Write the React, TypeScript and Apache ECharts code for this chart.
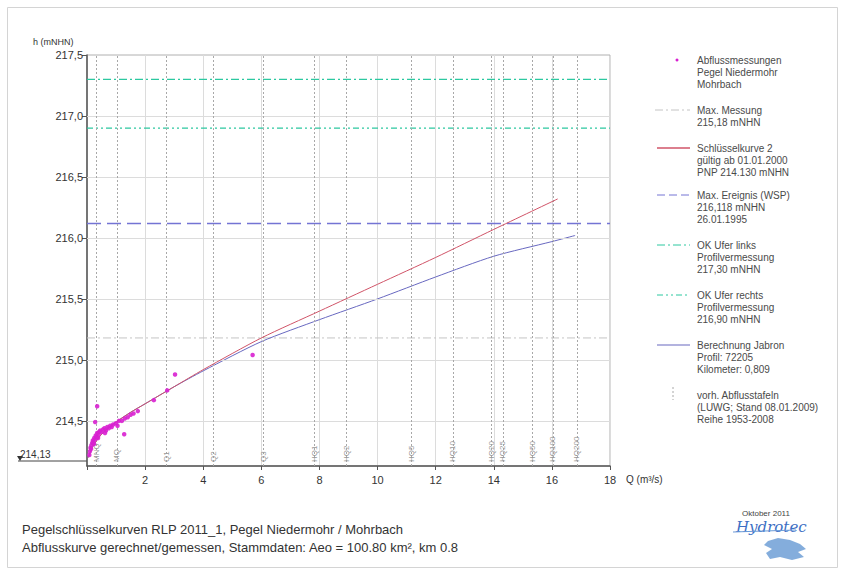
import React, { useEffect, useRef } from "react";
import * as echarts from "echarts";

// ---- data ----
const hTicks = [214.5, 215.0, 215.5, 216.0, 216.5, 217.0, 217.5];
const hMin = 214.13;
const qMin = 0;
const qMax = 18;

const measQ = [0.08, 0.1, 0.12, 0.15, 0.18, 0.2, 0.22, 0.25, 0.28, 0.3, 0.33, 0.35, 0.4, 0.42, 0.45, 0.5, 0.55, 0.6, 0.65, 0.7, 0.75, 0.8, 0.85, 0.9, 1.0, 1.05, 1.1, 1.2, 1.3, 1.4, 1.5, 1.6, 1.75, 0.35, 1.28, 2.3, 2.76, 3.03, 5.7, 0.28, 0.14, 0.24, 0.38, 0.62];
const measH = [214.22, 214.25, 214.28, 214.3, 214.32, 214.34, 214.33, 214.36, 214.35, 214.38, 214.37, 214.4, 214.39, 214.41, 214.42, 214.41, 214.43, 214.44, 214.42, 214.45, 214.44, 214.46, 214.45, 214.47, 214.48, 214.46, 214.5, 214.5, 214.52, 214.53, 214.55, 214.56, 214.58, 214.62, 214.39, 214.67, 214.75, 214.88, 215.04, 214.49, 214.27, 214.31, 214.36, 214.4];

const keyQ = [0.05, 0.2, 0.5, 1, 1.5, 2, 3, 4, 6, 8, 10, 12, 14, 16.2];
const keyH = [214.2, 214.29, 214.39, 214.49, 214.57, 214.64, 214.78, 214.92, 215.18, 215.4, 215.62, 215.84, 216.07, 216.32];

const jabQ = [0.05, 0.2, 0.5, 1, 1.5, 2, 3, 4, 6, 8, 10, 12, 14, 16, 16.8];
const jabH = [214.2, 214.29, 214.39, 214.49, 214.57, 214.64, 214.78, 214.91, 215.15, 215.33, 215.5, 215.68, 215.85, 215.97, 216.02];

const maxMessung = 215.18;
const maxEreignis = 216.118;
const okUferLinks = 217.3;
const okUferRechts = 216.9;

const tafelQ = [0.31, 1.03, 2.72, 4.34, 6.07, 7.83, 8.93, 11.17, 12.59, 13.93, 14.31, 15.34, 16.03, 16.86];
const tafelLabels = ["MNQ", "MQ", "Q1", "Q2", "Q3", "HQ1", "HQ2", "HQ5", "HQ10", "HQ20", "HQ25", "HQ50", "HQ100", "HQ200"];

const legendTexts = [
  "Abflussmessungen\nPegel Niedermohr\nMohrbach",
  "Max. Messung\n215,18 mNHN",
  "Schlüsselkurve 2\ngültig ab 01.01.2000\nPNP 214.130 mNHN",
  "Max. Ereignis (WSP)\n216,118 mNHN\n26.01.1995",
  "OK Ufer links\nProfilvermessung\n217,30 mNHN",
  "OK Ufer rechts\nProfilvermessung\n216,90 mNHN",
  "Berechnung Jabron\nProfil: 72205\nKilometer: 0,809",
  "vorh. Abflusstafeln\n(LUWG; Stand 08.01.2009)\nReihe 1953-2008",
];

const titleLine1 = "Pegelschlüsselkurven RLP 2011_1, Pegel Niedermohr / Mohrbach";
const titleLine2 = "Abflusskurve gerechnet/gemessen, Stammdaten: Aeo = 100.80 km², km 0.8";

const FONT = "'Liberation Sans', Arial, sans-serif";
const C_MEAS = "#d820d0";
const C_KEY = "#d05468";
const C_JAB = "#6868c0";
const C_EREIG = "#7474d4";
const C_TEAL = "#2cc8a0";
const C_MESS = "#c4c4c4";
const C_TAFEL = "#a8a8a8";

const fmtH = (v: number) => v.toFixed(1).replace(".", ",");

const refLine = (name: string, value: number, color: string, type: any, width: number, z: number) => ({
  type: "line",
  name,
  data: [[qMin, value], [qMax, value]],
  showSymbol: false,
  silent: true,
  z,
  color,
  lineStyle: { color, type, width, opacity: 1 },
});

export default function App() {
  const ref = useRef<HTMLDivElement>(null);
  useEffect(() => {
    if (!ref.current) return;
    const chart = echarts.init(ref.current, null, { renderer: "svg" });

    const legendY = [60, 110, 148, 195, 245, 295, 345, 395];
    const legendGraphics: any[] = [];
    legendTexts.forEach((t, i) => {
      legendGraphics.push({
        type: "text",
        x: 697,
        y: legendY[i] - 6,
        style: { text: t, font: `10px ${FONT}`, fill: "#4a4a4a", lineHeight: 12 },
      });
    });
    const sy = legendY;
    legendGraphics.push(
      { type: "circle", shape: { cx: 677, cy: sy[0], r: 1.5 }, style: { fill: C_MEAS } },
      { type: "line", shape: { x1: 655, y1: sy[1], x2: 690, y2: sy[1] }, style: { stroke: C_MESS, lineWidth: 1, lineDash: [8, 3, 2, 3] } },
      { type: "line", shape: { x1: 657, y1: sy[2], x2: 690, y2: sy[2] }, style: { stroke: C_KEY, lineWidth: 1.5 } },
      { type: "line", shape: { x1: 657, y1: sy[3], x2: 690, y2: sy[3] }, style: { stroke: C_EREIG, lineWidth: 1, lineDash: [8, 4] } },
      { type: "line", shape: { x1: 657, y1: sy[4], x2: 690, y2: sy[4] }, style: { stroke: C_TEAL, lineWidth: 1, lineDash: [8, 3, 2, 3] } },
      { type: "line", shape: { x1: 657, y1: sy[5], x2: 690, y2: sy[5] }, style: { stroke: C_TEAL, lineWidth: 1, lineDash: [6, 3, 2, 3, 2, 3] } },
      { type: "line", shape: { x1: 657, y1: sy[6], x2: 690, y2: sy[6] }, style: { stroke: C_JAB, lineWidth: 1.2 } },
      { type: "line", shape: { x1: 673, y1: sy[7] - 8, x2: 673, y2: sy[7] + 5 }, style: { stroke: C_TAFEL, lineWidth: 1, lineDash: [2, 2] } }
    );

    const option: any = {
      animation: false,
      backgroundColor: "#ffffff",
      textStyle: { fontFamily: FONT },
      grid: { left: 87, right: 235, top: 55, bottom: 110, show: true, borderColor: "#b0b0b0", borderWidth: 1, backgroundColor: "transparent" },
      xAxis: {
        type: "value",
        min: qMin,
        max: qMax,
        interval: 2,
        axisLine: { show: true, onZero: false, lineStyle: { color: "#555", width: 1.5 } },
        axisTick: { show: true, length: 4, lineStyle: { color: "#555" } },
        axisLabel: { fontSize: 11, color: "#333", margin: 8, formatter: (v: number) => (v === 0 ? "" : String(v)) },
        splitLine: { show: true, lineStyle: { color: "#dcdcdc", width: 1 } },
      },
      yAxis: {
        type: "value",
        min: hMin,
        max: 217.5,
        axisLine: { show: true, lineStyle: { color: "#555", width: 1.5 } },
        axisTick: { show: true, length: 5, customValues: hTicks, lineStyle: { color: "#555" } },
        axisLabel: { fontSize: 11, color: "#333", margin: 4, customValues: hTicks, formatter: (v: number) => fmtH(v) },
        splitLine: { show: false },
      },
      series: [
        {
          type: "line",
          name: "grid",
          data: [],
          silent: true,
          z: 1,
          markLine: {
            silent: true,
            symbol: ["none", "none"],
            label: { show: false },
            lineStyle: { color: "#dcdcdc", type: "solid", width: 1 },
            data: hTicks.slice(0, -1).map((v) => ({ yAxis: v })),
          },
        },
        {
          type: "line",
          name: "vorh. Abflusstafeln",
          data: [],
          silent: true,
          z: 2,
          markLine: {
            silent: true,
            symbol: ["none", "none"],
            lineStyle: { color: C_TAFEL, type: [2, 2], width: 1 },
            label: {
              show: true,
              position: "insideStart",
              distance: 4,
              formatter: "{b}",
              fontSize: 8,
              color: "#999",
              fontFamily: FONT,
            },
            data: tafelQ.map((q, i) => ({ xAxis: q, name: tafelLabels[i] })),
          },
        },
        refLine("Max. Messung", maxMessung, C_MESS, [8, 3, 2, 3], 1, 3),
        refLine("Max. Ereignis", maxEreignis, C_EREIG, [14, 6], 1.6, 3),
        refLine("OK Ufer links", okUferLinks, C_TEAL, [8, 3, 2, 3], 1.2, 3),
        refLine("OK Ufer rechts", okUferRechts, C_TEAL, [6, 3, 2, 3, 2, 3], 1.2, 3),
        {
          type: "line",
          name: "Berechnung Jabron",
          data: jabQ.map((q, i) => [q, jabH[i]]),
          showSymbol: false,
          smooth: 0.25,
          lineStyle: { color: C_JAB, width: 1 },
          z: 4,
        },
        {
          type: "line",
          name: "Schlüsselkurve 2",
          data: keyQ.map((q, i) => [q, keyH[i]]),
          showSymbol: false,
          smooth: 0.25,
          lineStyle: { color: C_KEY, width: 1 },
          z: 5,
        },
        {
          type: "scatter",
          name: "Abflussmessungen",
          data: measQ.map((q, i) => [q, measH[i]]),
          symbol: "circle",
          symbolSize: 4.5,
          itemStyle: { color: C_MEAS, opacity: 0.9 },
          z: 6,
        },
      ],
      graphic: [
        { type: "rect", shape: { x: 7.5, y: 7.5, width: 830, height: 560 }, style: { fill: "none", stroke: "#d4d4d4", lineWidth: 1 }, z: -10 },
        { type: "text", x: 33, y: 37, style: { text: "h (mNHN)", font: `9px ${FONT}`, fill: "#333" } },
        { type: "text", x: 626, y: 474, style: { text: "Q (m³/s)", font: `10px ${FONT}`, fill: "#333" } },
        { type: "text", x: 20, y: 449, style: { text: "214,13", font: `10px ${FONT}`, fill: "#333" } },
        { type: "line", shape: { x1: 18, y1: 461, x2: 87, y2: 461 }, style: { stroke: "#444", lineWidth: 1 } },
        { type: "polygon", shape: { points: [[17, 456], [23, 456], [20, 461]] }, style: { fill: "#333" } },
        { type: "text", x: 22, y: 523, style: { text: titleLine1, font: `13px ${FONT}`, fill: "#333" } },
        { type: "text", x: 22, y: 541, style: { text: titleLine2, font: `13px ${FONT}`, fill: "#333" } },
        { type: "text", x: 742, y: 509, style: { text: "Oktober 2011", font: `8px ${FONT}`, fill: "#444" } },
        { type: "text", x: 736, y: 519, style: { text: "Hydrotec", font: `italic 15px 'DejaVu Serif', serif`, fill: "#3d6fc4" } },
        { type: "line", shape: { x1: 733, y1: 532, x2: 796, y2: 530 }, style: { stroke: "#6a9ad8", lineWidth: 1 } },
        {
          type: "polygon",
          shape: { points: [[768, 541], [778, 538], [790, 540], [800, 544], [806, 549], [798, 552], [804, 557], [792, 560], [780, 557], [770, 559], [766, 553], [772, 549], [764, 545]] },
          style: { fill: "#6f9fd6", opacity: 0.85 },
        },
        ...legendGraphics,
      ],
    };
    chart.setOption(option);
    return () => chart.dispose();
  }, []);
  return (
    <div
      ref={ref}
      style={{ position: "fixed", left: 0, top: 0, width: 845, height: 576, background: "#fff" }}
    />
  );
}
